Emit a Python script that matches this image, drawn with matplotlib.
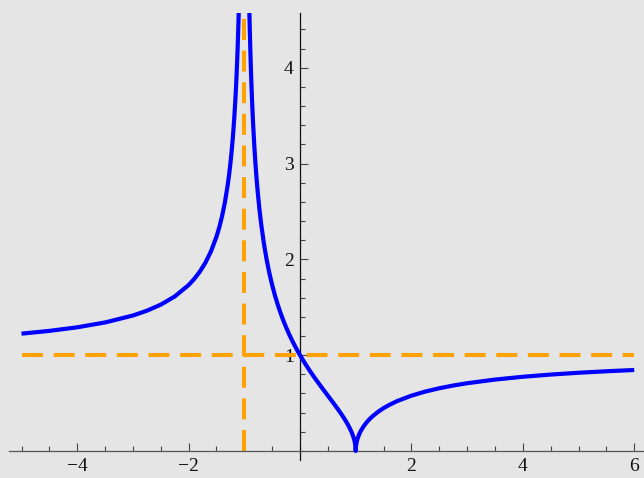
import matplotlib.pyplot as plt
from matplotlib.ticker import MultipleLocator

# left branch (x < -1)
x_left = [-5.0, -4.5, -4.0, -3.5, -3.0, -2.75, -2.5, -2.25, -2.0, -1.9, -1.8,
          -1.7, -1.6, -1.5, -1.45, -1.4, -1.35, -1.3, -1.27, -1.25, -1.23,
          -1.21, -1.2, -1.18, -1.16, -1.15, -1.14, -1.13, -1.12, -1.11, -1.1,
          -1.095, -1.09]
y_left = [1.2247, 1.2536, 1.2910, 1.3416, 1.4142, 1.4639, 1.5275, 1.6125,
          1.7321, 1.7951, 1.8708, 1.9640, 2.0817, 2.2361, 2.3333, 2.4495,
          2.5912, 2.7689, 2.8996, 3.0, 3.1138, 3.2441, 3.3166, 3.4801,
          3.6742, 3.7859, 3.9097, 4.0478, 4.2032, 4.3797, 4.5826, 4.6960,
          4.8190]

# right branch (x > -1), with the cusp at x = 1
x_right = [-0.91, -0.905, -0.9, -0.89, -0.88, -0.87, -0.86, -0.85, -0.84,
           -0.82, -0.8, -0.78, -0.76, -0.73, -0.7, -0.65, -0.6, -0.55, -0.5,
           -0.45, -0.4, -0.35, -0.3, -0.25, -0.2, -0.15, -0.1, -0.05, 0.0,
           0.05, 0.1, 0.15, 0.2, 0.25, 0.3, 0.35, 0.4, 0.45, 0.5, 0.55, 0.6,
           0.65, 0.7, 0.75, 0.8, 0.85, 0.9, 0.92, 0.94, 0.96, 0.97, 0.98,
           0.99, 0.995, 1.0, 1.005, 1.01, 1.02, 1.03, 1.045, 1.06, 1.08, 1.1,
           1.15, 1.2, 1.25, 1.3, 1.4, 1.5, 1.6, 1.75, 2.0, 2.25, 2.5, 2.75,
           3.0, 3.5, 4.0, 4.5, 5.0, 5.5, 6.0]
y_right = [4.6068, 4.4780, 4.3589, 4.1451, 3.9581, 3.7927, 3.6450, 3.5119,
           3.3912, 3.1798, 3.0, 2.8445, 2.7080, 2.5313, 2.3805, 2.1712, 2.0,
           1.8559, 1.7321, 1.6237, 1.5275, 1.4412, 1.3628, 1.2910, 1.2247,
           1.1632, 1.1055, 1.0513, 1.0, 0.9512, 0.9045, 0.8597, 0.8165,
           0.7746, 0.7338, 0.6939, 0.6547, 0.6159, 0.5774, 0.5388, 0.5,
           0.4606, 0.4201, 0.3780, 0.3333, 0.2847, 0.2294, 0.2041, 0.1759,
           0.1429, 0.1234, 0.1005, 0.0709, 0.0501, 0.0, 0.0499, 0.0705,
           0.0995, 0.1216, 0.1483, 0.1707, 0.1961, 0.2182, 0.2641, 0.3015,
           0.3333, 0.3612, 0.4082, 0.4472, 0.4804, 0.5222, 0.5774, 0.6202,
           0.6547, 0.6831, 0.7071, 0.7454, 0.7746, 0.7977, 0.8165, 0.8321,
           0.8452]

# asymptotes
h_asym = 1.0
v_asym = -1.0

x_ticks = [-4, -2, 2, 4, 6]
y_ticks = [1, 2, 3, 4]

bg = '#e5e5e5'
blue = '#0000ff'
orange = '#ffa100'

fig = plt.figure(figsize=(6.44, 4.78), dpi=100, facecolor=bg)
ax = fig.add_axes([0.01436, 0.0385, 0.9895, 0.9339])
ax.set_facecolor(bg)
ax.set_xlim(-5.22, 6.22)
ax.set_ylim(-0.09, 4.57)

# dashed asymptotes
dash = (5.2, 2.65)
ax.plot([-5, 6], [h_asym, h_asym], color=orange, lw=2.9, dashes=dash, zorder=2)
ax.plot([v_asym, v_asym], [0, 4.8], color=orange, lw=2.9, dashes=dash, zorder=2)

# curve
ax.plot(x_left, y_left, color=blue, lw=3.0, zorder=3, solid_capstyle='butt')
ax.plot(x_right, y_right, color=blue, lw=3.0, zorder=3, solid_capstyle='butt')

# axes through the origin
for side in ['top', 'right']:
    ax.spines[side].set_visible(False)
ax.spines['left'].set_position(('data', 0))
ax.spines['bottom'].set_position(('data', 0))
ax.spines['left'].set_color('#111111')
ax.spines['bottom'].set_color('#555555')
ax.spines['left'].set_linewidth(0.9)
ax.spines['bottom'].set_linewidth(0.9)

ax.set_xticks(x_ticks)
ax.set_yticks(y_ticks)
ax.xaxis.set_minor_locator(MultipleLocator(0.5))
ax.yaxis.set_minor_locator(MultipleLocator(0.2))
ax.tick_params(axis='both', which='both', direction='in', color='#444444', width=0.8)
ax.tick_params(axis='both', which='major', length=5.5)
ax.tick_params(axis='both', which='minor', length=3.5)
ax.tick_params(axis='x', which='major', pad=5)
ax.tick_params(axis='y', which='major', pad=4.5)

for lab in ax.get_xticklabels() + ax.get_yticklabels():
    lab.set_fontfamily('Liberation Serif')
    lab.set_fontsize(14)
    lab.set_color('#111111')

fig.savefig('out.png', dpi=100, facecolor=bg)
